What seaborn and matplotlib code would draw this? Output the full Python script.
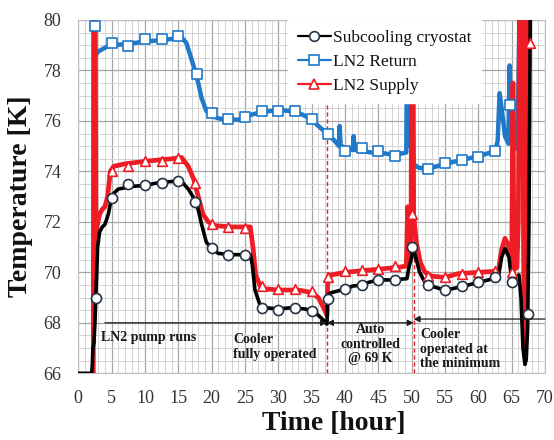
import matplotlib
matplotlib.use("Agg")
import matplotlib.pyplot as plt
from matplotlib.lines import Line2D
from matplotlib.ticker import MultipleLocator
import seaborn as sns
import pandas as pd

# ---------------- data ----------------
# Subcooling cryostat (black line)
t_sub = [0, 2.0, 2.1, 2.2, 2.35, 2.5, 2.7, 2.9, 3.2, 3.6, 4.0, 4.5, 4.8, 5.2, 6, 8, 10, 12, 14,
         15.5, 16.5, 17.2, 17.8, 18.5, 19.2, 20, 21, 23, 25, 25.8, 26.1, 26.5, 27.2, 28, 30, 32,
         34, 35.3, 36, 36.8, 37.3, 37.4, 37.6, 38, 39.5, 40.5, 41, 42.5, 43.5, 45, 47, 49.3, 49.6,
         50.0, 50.2, 50.6, 51.2, 52, 53, 55, 57, 60, 63, 63.5, 64, 64.6, 65, 65.6, 66.1, 66.4,
         66.7, 67.0, 67.2, 67.4, 67.6, 67.8]
v_sub = [66.0, 66.0, 66.3, 67.0, 67.2, 68.0, 69.5, 71.0, 71.6, 71.8, 71.9, 72.3, 72.7, 73.1, 73.3,
         73.4, 73.45, 73.55, 73.6, 73.6, 73.3, 73.0, 72.7, 71.9, 71.2, 70.95, 70.75, 70.7, 70.7,
         70.7, 70.3, 69.3, 68.75, 68.6, 68.55, 68.6, 68.55, 68.45, 68.3, 68.1, 67.95, 68.9, 69.15,
         69.2, 69.3, 69.35, 69.45, 69.5, 69.6, 69.7, 69.7, 69.75, 70.2, 70.6, 71.0, 70.6, 70.0,
         69.6, 69.45, 69.3, 69.4, 69.6, 69.8, 70.6, 70.95, 70.6, 69.7, 69.8, 69.9, 69.0, 67.0,
         66.35, 66.6, 67.8, 72.0, 80.5]
tm_sub = [2.65, 5, 7.5, 10, 12.5, 15, 17.5, 20, 22.5, 25, 27.5, 30, 32.5, 35, 37.5, 40, 42.5, 45,
          47.5, 50, 52.5, 55, 57.5, 60, 62.5, 65, 67.5]
vm_sub = [69.0, 72.95, 73.5, 73.45, 73.55, 73.6, 72.8, 70.95, 70.7, 70.7, 68.6, 68.5, 68.6, 68.45,
          68.95, 69.35, 69.5, 69.7, 69.7, 71.0, 69.5, 69.3, 69.45, 69.6, 69.8, 69.6, 68.35]

# LN2 Return (blue line)
t_ret = [2.35, 2.55, 3, 4, 5, 7.5, 10, 12.5, 14, 15.5, 16.2, 16.8, 17.5, 18, 18.5, 19.2, 20, 21,
         22.5, 24, 25, 26, 27.5, 29, 30.5, 32.5, 34, 35, 36, 37.5, 38.5, 39.1, 39.2, 39.35, 40,
         41.2, 41.3, 41.45, 42.5, 44, 45, 47.5, 49.2, 49.35, 49.6, 49.75, 49.95, 50.05, 50.25, 51,
         52.5, 55, 57.5, 60, 62.5, 62.9, 63.2, 63.5, 64, 64.5, 64.7, 64.9, 65.7, 66.0, 66.2, 66.5,
         66.9, 67.1, 67.9]
v_ret = [79.8, 78.6, 78.75, 78.9, 79.0, 79.05, 79.15, 79.2, 79.25, 79.3, 79.1, 78.6, 78.0, 77.5,
         76.9, 76.4, 76.2, 76.1, 76.05, 76.05, 76.15, 76.25, 76.35, 76.4, 76.42, 76.38, 76.2,
         76.05, 75.8, 75.45, 75.2, 75.0, 75.8, 75.05, 74.9, 74.85, 75.4, 74.85, 74.8, 74.75,
         74.75, 74.65, 74.75, 81.0, 81.0, 75.0, 75.0, 77.3, 74.3, 74.15, 74.1, 74.3, 74.45, 74.6,
         74.8, 75.2, 77.1, 76.5, 75.4, 75.1, 78.2, 75.1, 74.9, 77.0, 81.0, 81.0, 68.3, 81.0, 81.0]
tm_ret = [2.5, 5, 7.5, 10, 12.5, 15, 17.75, 20, 22.5, 25, 27.5, 30, 32.5, 35, 37.5, 40, 42.5, 45,
          47.5, 52.5, 55, 57.5, 60, 62.5, 64.8]
vm_ret = [79.76, 79.08, 78.98, 79.24, 79.24, 79.37, 77.85, 76.3, 76.07, 76.17, 76.4, 76.39, 76.39,
          76.08, 75.47, 74.81, 74.94, 74.81, 74.6, 74.1, 74.32, 74.45, 74.58, 74.81, 76.63]

# LN2 Supply (red line)
t_sup = [2.25, 2.3, 2.55, 2.65, 2.8, 3.2, 3.6, 4.0, 4.4, 4.8, 5.3, 7, 10, 12, 14, 15.5, 16.5,
         17.3, 18, 18.7, 19.5, 20.5, 23, 25.8, 26.2, 26.6, 27.3, 28, 30, 33, 35, 36, 36.8, 37.3,
         37.4, 37.6, 38, 40, 42, 44, 46, 48, 49.2, 49.4, 49.6, 49.9, 50.05, 50.2, 50.3, 50.7, 51.3,
         52, 53, 55, 57, 60, 63, 63.5, 64, 64.6, 65.0, 65.2, 65.35, 65.8, 66.0, 66.2, 66.6, 66.9,
         67.1, 67.3, 67.9]
v_sup = [65.5, 81.0, 81.0, 71.0, 71.8, 72.3, 72.5, 72.6, 73.0, 74.0, 74.2, 74.3, 74.4, 74.45, 74.5,
         74.55, 74.2, 73.7, 73.0, 72.3, 72.0, 71.85, 71.8, 71.8, 71.0, 69.9, 69.45, 69.35, 69.3,
         69.3, 69.2, 69.0, 68.6, 68.3, 69.5, 69.8, 69.9, 70.0, 70.05, 70.1, 70.15, 70.2, 70.25,
         72.6, 70.4, 71.0, 81.0, 81.0, 72.3, 71.2, 70.4, 70.0, 69.85, 69.8, 69.95, 70.0, 70.05,
         70.9, 71.35, 71.0, 70.05, 77.5, 70.1, 70.2, 72.0, 81.0, 81.0, 67.0, 66.5, 81.0, 81.0]
tm_sup = [5, 7.5, 10, 12.5, 15, 17.5, 20, 22.5, 25, 27.5, 30, 32.5, 35, 37.5, 40, 42.5, 45, 47.5,
          50, 52.5, 55, 57.5, 60, 62.5, 65, 67.7]
vm_sup = [74.0, 74.2, 74.4, 74.4, 74.55, 73.55, 71.9, 71.8, 71.75, 69.45, 69.35, 69.35, 69.25,
          69.8, 70.05, 70.1, 70.15, 70.25, 72.3, 69.85, 69.8, 69.95, 70.0, 70.05, 70.0, 79.1]

series_names = ["Subcooling cryostat", "LN2 Return", "LN2 Supply"]
phase_times = [37.3, 50.3]

# ---------------- style ----------------
sns.set_theme(style="white")
plt.rcParams["font.family"] = ["Liberation Serif", "DejaVu Serif"]

C_BLACK = "#000000"
C_BLUE = "#1f78c8"
C_RED = "#ee1c25"
C_CIRC_EDGE = "#243447"

fig = plt.figure(figsize=(5.54, 4.40), dpi=100)
ax = fig.add_axes([0.1413, 0.1516, 0.8424, 0.8030])

# grid
ax.xaxis.set_major_locator(MultipleLocator(5))
ax.xaxis.set_minor_locator(MultipleLocator(1))
ax.yaxis.set_major_locator(MultipleLocator(2))
ax.yaxis.set_minor_locator(MultipleLocator(0.5))
ax.grid(which="major", color="#a6a6a6", linewidth=0.9, zorder=0)
ax.grid(which="minor", color="#d4d4d4", linewidth=0.7, zorder=0)
ax.set_axisbelow(True)

df_ret = pd.DataFrame({"t": t_ret, "v": v_ret})
df_sup = pd.DataFrame({"t": t_sup, "v": v_sup})
df_sub = pd.DataFrame({"t": t_sub, "v": v_sub})

sns.lineplot(data=df_ret, x="t", y="v", sort=False, estimator=None, color=C_BLUE, lw=3.2, ax=ax, zorder=3)
sns.lineplot(data=df_sup, x="t", y="v", sort=False, estimator=None, color=C_RED, lw=3.4, ax=ax, zorder=4)
sns.lineplot(data=df_sub, x="t", y="v", sort=False, estimator=None, color=C_BLACK, lw=2.6, ax=ax, zorder=5)

sns.scatterplot(x=tm_ret, y=vm_ret, marker="s", s=48, facecolor="white", edgecolor=C_BLUE, linewidth=1.2, ax=ax, zorder=6)
sns.scatterplot(x=tm_sup, y=vm_sup, marker="^", s=48, facecolor="white", edgecolor=C_RED, linewidth=1.2, ax=ax, zorder=6)
sns.scatterplot(x=tm_sub, y=vm_sub, marker="o", s=52, facecolor="white", edgecolor=C_CIRC_EDGE, linewidth=1.2, ax=ax, zorder=7)

# phase dividers
for pt in phase_times:
    ax.axvline(pt, color=C_RED, lw=1.0, ls=(0, (3, 2)), zorder=4.5)

# phase arrows
arrow_kw = dict(color="#1a1a1a", lw=0.9, shrinkA=0, shrinkB=0, mutation_scale=9)
ax.annotate("", xy=(37.3, 68.0), xytext=(4.0, 68.0), arrowprops=dict(arrowstyle="-|>", **arrow_kw), zorder=8)
ax.annotate("", xy=(50.3, 68.0), xytext=(37.3, 68.0), arrowprops=dict(arrowstyle="<|-|>", **arrow_kw), zorder=8)
ax.annotate("", xy=(50.3, 68.15), xytext=(70, 68.15), arrowprops=dict(arrowstyle="-|>", **arrow_kw), zorder=8)

tkw = dict(fontsize=10, fontweight="bold", color="#1a1a1a", zorder=9, linespacing=1.15)
ax.text(3.4, 67.4, "LN2 pump runs", ha="left", va="center", **tkw)
ax.text(23.2, 67.05, "Cooler\nfully operated", ha="left", va="center", **tkw)
ax.text(43.8, 67.15, "Auto\ncontrolled\n@ 69 K", ha="center", va="center", **tkw)
ax.text(51.3, 66.95, "Cooler\noperated at\nthe minimum", ha="left", va="center", **tkw)

ax.set_xlim(0, 70)
ax.set_ylim(66, 80)

for s in ax.spines.values():
    s.set_color("#bfbfbf")
    s.set_linewidth(0.8)

ax.tick_params(axis="both", which="both", length=0, labelsize=13, labelcolor="#333333")
ax.tick_params(axis="x", pad=12)
ax.tick_params(axis="y", pad=12)

ax.set_xlabel("Time [hour]", fontsize=20, fontweight="bold", color="#111111")
ax.set_ylabel("Temperature [K]", fontsize=20, fontweight="bold", color="#111111")
ax.xaxis.set_label_coords(0.548, -0.108)
ax.yaxis.set_label_coords(-0.097, 0.5)

handles = [
    Line2D([0], [0], color=C_BLACK, lw=1.6, marker="o", ms=7, mfc="white", mec=C_CIRC_EDGE, mew=1.2),
    Line2D([0], [0], color=C_BLUE, lw=1.6, marker="s", ms=7, mfc="white", mec=C_BLUE, mew=1.2),
    Line2D([0], [0], color=C_RED, lw=1.6, marker="^", ms=7, mfc="white", mec=C_RED, mew=1.2),
]
leg = ax.legend(handles, series_names, loc="upper left", bbox_to_anchor=(0.45, 1.0),
                fontsize=12.5, frameon=True, framealpha=1.0, facecolor="white", edgecolor="white",
                fancybox=False, borderpad=0.55, labelspacing=0.45, handlelength=1.9,
                handletextpad=0.1, borderaxespad=0.0)
leg.set_zorder(10)
for txt in leg.get_texts():
    txt.set_color("#111111")

fig.savefig("out.png", dpi=100)
